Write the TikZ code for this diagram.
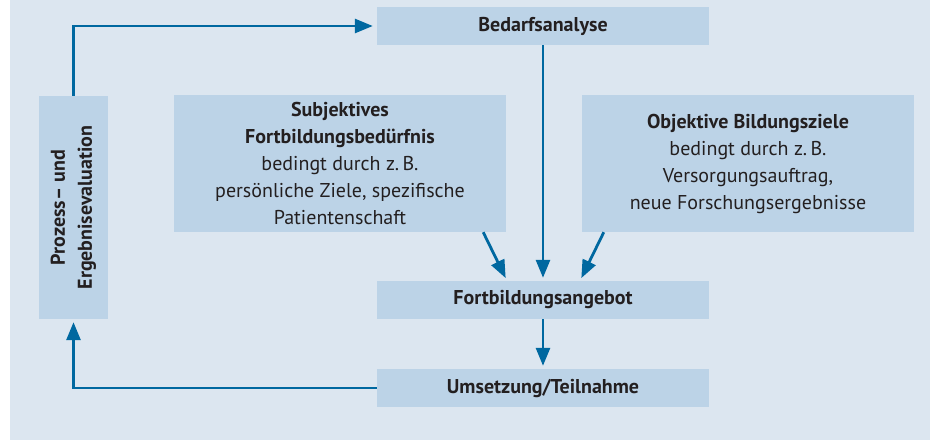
\documentclass[tikz,border=0pt]{standalone}
\usepackage{fontspec}
\setmainfont{PT Sans}
\usetikzlibrary{arrows.meta,calc}
\definecolor{bgcol}{HTML}{DCE6F0}
\definecolor{boxcol}{HTML}{BCD3E7}
\definecolor{arrcol}{HTML}{0068A0}
\definecolor{txtcol}{HTML}{231F20}
\begin{document}
\begin{tikzpicture}[x=1pt,y=-1pt,
  boxstyle/.style={fill=boxcol,draw=none,inner sep=0pt,text=txtcol,align=center,
    font=\fontsize{20}{27}\selectfont},
  conn/.style={draw=arrcol,line width=2.8pt,-{Triangle[length=18pt,width=14pt]}},
]
\useasboundingbox (0,0) rectangle (930,441);
\fill[bgcol] (10,0) rectangle (930,440);
% boxes
\node[boxstyle,minimum width=332pt,minimum height=38pt] (bed) at (543,26) {\textbf{Bedarfsanalyse}};
\node[boxstyle,minimum width=332pt,minimum height=137pt] (subj) at (340,163.5)
  {\textbf{Subjektives}\\ \textbf{Fortbildungsbedürfnis}\\ bedingt durch z.\,B.\\ persönliche Ziele, spezifische\\ Patientenschaft};
\node[boxstyle,minimum width=332pt,minimum height=137pt] (obj) at (748,163.5)
  {\textbf{Objektive Bildungsziele}\\ bedingt durch z.\,B.\\ Versorgungsauftrag,\\ neue Forschungsergebnisse};
\node[boxstyle,minimum width=332pt,minimum height=38pt] (fort) at (543,300) {\textbf{Fortbildungsangebot}};
\node[boxstyle,minimum width=332pt,minimum height=38pt] (ums) at (543,388) {\textbf{Umsetzung/Teilnahme}};
\node[boxstyle,minimum width=69pt,minimum height=223pt] (eval) at (73.5,207.5) {};
\node[text=txtcol,align=center,rotate=90,inner sep=0pt,font=\fontsize{20}{27}\selectfont\bfseries] (evaltext) at (eval.center)
  {Prozess– und\\ Ergebnisevaluation};
% connector end points
\coordinate (subjout) at ($(subj.south east)+(-23,0)$);
\coordinate (objout) at ($(obj.south west)+(22,0)$);
\coordinate (fortinl) at ($(fort.north)+(-36,0)$);
\coordinate (fortinr) at ($(fort.north)+(37,0)$);
% connectors
\draw[conn,shorten >=4pt] (eval.north) |- (bed.west);
\draw[conn,shorten >=3pt] (bed.south) -- (fort.north);
\draw[conn,shorten >=3pt] (subjout) -- (fortinl);
\draw[conn,shorten >=3pt] (objout) -- (fortinr);
\draw[conn,shorten >=3pt] (fort.south) -- (ums.north);
\draw[conn,shorten >=3pt] (ums.west) -| (eval.south);
\end{tikzpicture}
\end{document}
